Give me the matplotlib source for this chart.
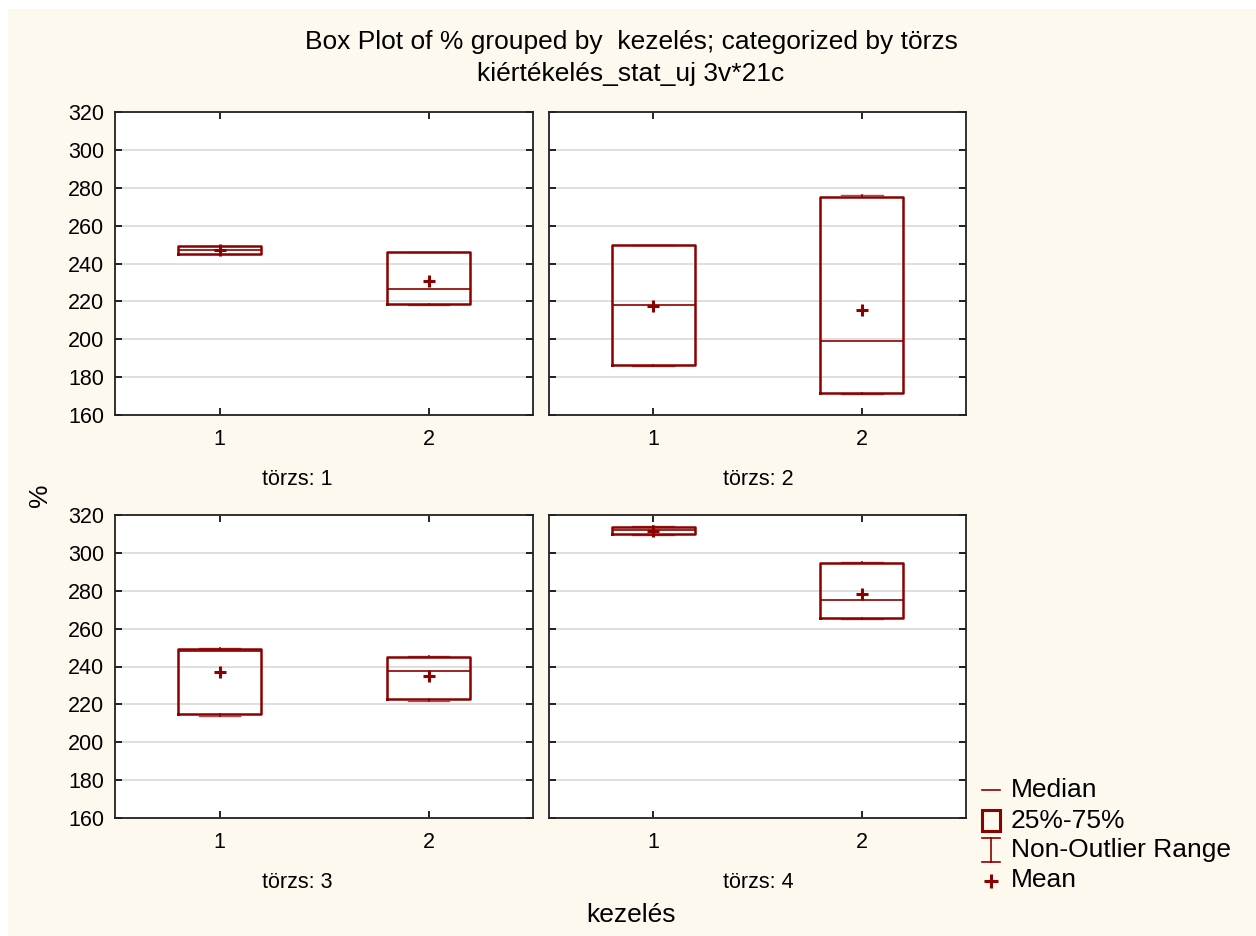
import matplotlib.pyplot as plt
from matplotlib.patches import Rectangle
from matplotlib.lines import Line2D

plt.rcParams['font.family'] = ['Liberation Sans', 'DejaVu Sans']

# data (one entry per kezelés 1, 2)
torzs = ['1', '2', '3', '4']
kezeles = [1, 2]
q1 = [[245.0, 218.6], [186.6, 171.5], [215.0, 222.7], [310.2, 265.4]]
q3 = [[249.0, 246.0], [249.8, 275.3], [249.1, 245.0], [313.7, 294.7]]
median = [[247.0, 226.5], [218.1, 199.1], [248.2, 237.5], [312.0, 275.3]]
mean = [[247.0, 230.8], [217.7, 215.3], [237.3, 235.0], [311.5, 278.3]]
whis_lo = [[245.0, 218.0], [186.0, 171.0], [214.0, 222.0], [309.7, 265.0]]
whis_hi = [[249.5, 246.2], [250.0, 276.0], [250.0, 245.8], [314.0, 295.2]]

red = '#8b0000'
cream = '#fdf9ee'

W, H = 1256, 936
fig = plt.figure(figsize=(W / 100, H / 100), dpi=100, facecolor='white')
fig.patches.append(Rectangle((8 / W, 0), 1 - 8 / W, 1 - 9 / H, transform=fig.transFigure,
                             facecolor=cream, edgecolor='none', zorder=-10))

def px_axes(x0, y0, x1, y1):
    return fig.add_axes([x0 / W, 1 - y1 / H, (x1 - x0) / W, (y1 - y0) / H])

boxes = [(115, 112, 533, 415), (549, 112, 966, 415),
         (115, 515, 533, 818), (549, 515, 966, 818)]

for i, t in enumerate(torzs):
    ax = px_axes(*boxes[i])
    stats = []
    for j in range(2):
        stats.append(dict(med=median[i][j], q1=q1[i][j], q3=q3[i][j],
                          whislo=whis_lo[i][j], whishi=whis_hi[i][j],
                          mean=mean[i][j], fliers=[]))
    ax.bxp(stats, positions=kezeles, widths=0.4, showmeans=True, patch_artist=False,
           boxprops=dict(color=red, lw=1.8),
           medianprops=dict(color=red, lw=1.2),
           whiskerprops=dict(color=red, lw=1.2),
           capprops=dict(color=red, lw=1.0, alpha=0.7),
           capwidths=0.2,
           meanprops=dict(marker='+', markeredgecolor=red, markersize=9, markeredgewidth=2.2))
    ax.set_xlim(0.5, 2.5)
    ax.set_ylim(160, 320)
    ax.set_yticks(range(160, 321, 20))
    ax.set_xticks(kezeles)
    ax.set_xticklabels([str(k) for k in kezeles])
    ax.yaxis.grid(True, color='#d9d9d9', lw=1.2)
    ax.set_axisbelow(True)
    ax.tick_params(direction='in', length=5, width=1.2, top=True, right=True,
                   labelsize=15.5, colors='black')
    ax.tick_params(axis='x', pad=10)
    ax.tick_params(axis='y', pad=8)
    if i % 2 == 1:
        ax.set_yticklabels([])
    for s in ax.spines.values():
        s.set_linewidth(1.3)
        s.set_color('#222222')
    # left panels: label centred over the axes plus tick-label area
    cx = 297 if i % 2 == 0 else 758
    cy = boxes[i][3] + 65
    fig.text(cx / W, 1 - cy / H, 'törzs: ' + t, ha='center', va='center', fontsize=15.5)

fig.text(631 / W, 1 - 42 / H, 'Box Plot of % grouped by  kezelés; categorized by törzs',
         ha='center', va='center', fontsize=19)
fig.text(631 / W, 1 - 74 / H, 'kiértékelés_stat_uj 3v*21c', ha='center', va='center', fontsize=19)
fig.text(40 / W, 1 - 495 / H, '%', rotation=90, ha='center', va='center', fontsize=19)
fig.text(631 / W, 1 - 915 / H, 'kezelés', ha='center', va='center', fontsize=19)

# legend drawn by hand in pixel coordinates
lg = fig.add_axes([0, 0, 1, 1], facecolor='none')
lg.set_xlim(0, W)
lg.set_ylim(H, 0)
lg.axis('off')
lg.add_line(Line2D([982, 1000], [790, 790], color=red, lw=1.2))
lg.add_patch(Rectangle((982, 810), 18, 21, facecolor='none', edgecolor=red, lw=2.2))
lg.add_line(Line2D([991, 991], [838, 862], color=red, lw=1.2))
lg.add_line(Line2D([982, 1000], [838, 838], color=red, lw=1.2))
lg.add_line(Line2D([982, 1000], [862, 862], color=red, lw=1.2))
lg.plot([991], [881], marker='+', color=red, markersize=10, markeredgewidth=2.2)
for y, s in zip([790, 821, 850, 880], ['Median', '25%-75%', 'Non-Outlier Range', 'Mean']):
    lg.text(1011, y, s, ha='left', va='center', fontsize=19)

fig.savefig('out.png', dpi=100, facecolor=fig.get_facecolor())
